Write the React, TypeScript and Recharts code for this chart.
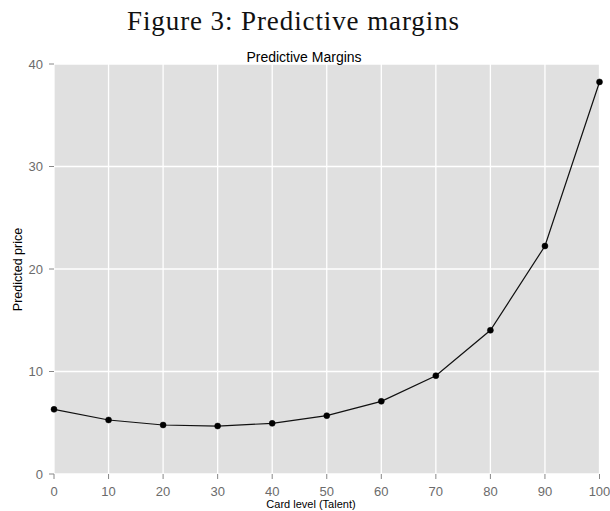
import React from "react";
import { LineChart, Line, XAxis, YAxis, CartesianGrid } from "recharts";

const cardLevels = [0, 10, 20, 30, 40, 50, 60, 70, 80, 90, 100];
const predictedPrice = [6.31, 5.27, 4.78, 4.68, 4.94, 5.69, 7.09, 9.59, 14.02, 22.24, 38.25];
const xTicks = [0, 10, 20, 30, 40, 50, 60, 70, 80, 90, 100];
const yTicks = [0, 10, 20, 30, 40];

const figureTitle = "Figure 3: Predictive margins";
const chartTitle = "Predictive Margins";
const xLabel = "Card level (Talent)";
const yLabel = "Predicted price";

const data = cardLevels.map((level, i) => ({ level, price: predictedPrice[i] }));

const sans = "'Liberation Sans', Arial, sans-serif";

export default function App() {
  return (
    <div style={{ position: "absolute", left: 0, top: 0, width: 610, height: 511, background: "#fff" }}>
      <LineChart
        width={610}
        height={511}
        data={data}
        margin={{ top: 64, right: 10.5, bottom: 7, left: 14 }}
      >
        <CartesianGrid fill="#e0e0e0" fillOpacity={1} stroke="#ffffff" strokeWidth={1.3} />
        <XAxis
          dataKey="level"
          type="number"
          domain={[0, 100]}
          ticks={xTicks}
          height={30}
          axisLine={false}
          tickLine={{ stroke: "#888", strokeWidth: 1 }}
          tickSize={5}
          tickMargin={8}
          tick={{ fill: "#6b6b6b", fontSize: 13, fontFamily: sans }}
        />
        <YAxis
          type="number"
          domain={[0, 40]}
          ticks={yTicks}
          width={40}
          axisLine={false}
          tickLine={{ stroke: "#888", strokeWidth: 1 }}
          tickSize={5}
          tickMargin={6}
          tick={{ fill: "#6b6b6b", fontSize: 13, fontFamily: sans }}
        />
        <Line
          dataKey="price"
          type="linear"
          stroke="#111"
          strokeWidth={1.2}
          dot={{ r: 3, fill: "#000", stroke: "#000", strokeWidth: 0.5 }}
          isAnimationActive={false}
        />
      </LineChart>
      <svg
        width={610}
        height={511}
        style={{ position: "absolute", left: 0, top: 0, pointerEvents: "none" }}
      >
        <text
          x={293.5}
          y={29.5}
          textAnchor="middle"
          fontFamily="'Liberation Serif', 'Times New Roman', serif"
          fontSize={27}
          letterSpacing={0.9}
          fill="#111"
        >
          {figureTitle}
        </text>
        <text x={304} y={61.5} textAnchor="middle" fontFamily={sans} fontSize={14} fill="#000">
          {chartTitle}
        </text>
        <text x={311} y={508} textAnchor="middle" fontFamily={sans} fontSize={11} fill="#000">
          {xLabel}
        </text>
        <text
          x={22}
          y={269.5}
          textAnchor="middle"
          fontFamily={sans}
          fontSize={12.5}
          fill="#000"
          transform="rotate(-90 22 269.5)"
        >
          {yLabel}
        </text>
      </svg>
    </div>
  );
}
